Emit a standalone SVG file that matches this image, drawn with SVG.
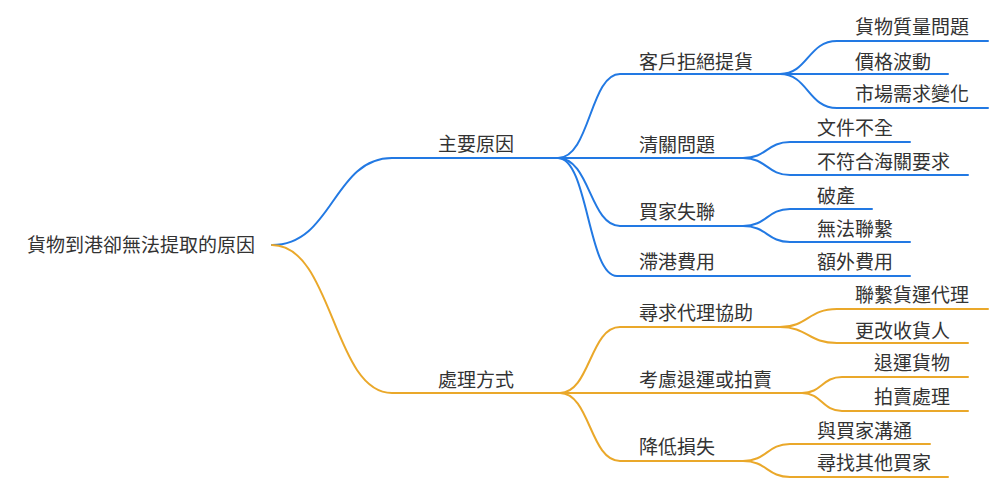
<svg xmlns="http://www.w3.org/2000/svg" width="1000" height="490" viewBox="0 0 1000 490">
<style>
text{font-family:"Noto Sans CJK TC","Noto Sans CJK SC",sans-serif;font-size:19px;fill:#333;}
.b{fill:none;stroke:#2279E3;stroke-width:2;stroke-linecap:round;}
.o{fill:none;stroke:#EAA82A;stroke-width:2;stroke-linecap:round;}
</style>
<rect width="1000" height="490" fill="#fff"/>
<g id="connectors">
<path class="b" d="M272,245 C333,245 333,158 392,158 L558,158"/>
<path class="o" d="M272,245 C333,245 333,393 392,393 L560,393"/>
<path class="b" d="M558,158 C590,158 590,74 620,74 L780,74"/>
<path class="b" d="M558,158 L743,158"/>
<path class="b" d="M558,158 C590,158 590,226 620,226 L743,226"/>
<path class="b" d="M558,158 C588,158 588,276 617,276 L910,276"/>
<path class="b" d="M780,74 C808,74 808,41 837,41 L988,41"/>
<path class="b" d="M780,74 L948,74"/>
<path class="b" d="M780,74 C808,74 808,108 837,108 L988,108"/>
<path class="b" d="M743,158 C767,158 767,142 790,142 L910,142"/>
<path class="b" d="M743,158 C767,158 767,175 790,175 L968,175"/>
<path class="b" d="M743,226 C767,226 767,209 790,209 L872,209"/>
<path class="b" d="M743,226 C767,226 767,242 790,242 L910,242"/>
<path class="o" d="M560,393 C590,393 590,327 620,327 L780,327"/>
<path class="o" d="M560,393 L802,393"/>
<path class="o" d="M560,393 C590,393 590,461 620,461 L743,461"/>
<path class="o" d="M780,327 C808,327 808,309 837,309 L988,309"/>
<path class="o" d="M780,327 C808,327 808,343 837,343 L968,343"/>
<path class="o" d="M802,393 C822,393 822,377 842,377 L968,377"/>
<path class="o" d="M802,393 C822,393 822,411 842,411 L968,411"/>
<path class="o" d="M743,461 C767,461 767,444 790,444 L930,444"/>
<path class="o" d="M743,461 C767,461 767,477 790,477 L948,477"/>
</g>
<g id="root"><text x="27" y="252">貨物到港卻無法提取的原因</text></g>
<g id="n-main"><text x="438" y="151">主要原因</text></g>
<g id="n-handle"><text x="438" y="387">處理方式</text></g>
<g id="n-refuse"><text x="639" y="69">客戶拒絕提貨</text></g>
<g id="n-customs"><text x="639" y="152">清關問題</text></g>
<g id="n-lost"><text x="639" y="219">買家失聯</text></g>
<g id="n-demurrage"><text x="639" y="269">滯港費用</text></g>
<g id="n-quality"><text x="855" y="34">貨物質量問題</text></g>
<g id="n-price"><text x="855" y="69">價格波動</text></g>
<g id="n-market"><text x="855" y="101">市場需求變化</text></g>
<g id="n-docs"><text x="817" y="135">文件不全</text></g>
<g id="n-noncomp"><text x="817" y="169">不符合海關要求</text></g>
<g id="n-bankrupt"><text x="817" y="203">破產</text></g>
<g id="n-nocontact"><text x="817" y="236">無法聯繫</text></g>
<g id="n-extra"><text x="817" y="269">額外費用</text></g>
<g id="n-agent"><text x="639" y="320">尋求代理協助</text></g>
<g id="n-return"><text x="639" y="387">考慮退運或拍賣</text></g>
<g id="n-reduce"><text x="639" y="454">降低損失</text></g>
<g id="n-forwarder"><text x="855" y="302">聯繫貨運代理</text></g>
<g id="n-consignee"><text x="855" y="338">更改收貨人</text></g>
<g id="n-ship-back"><text x="874" y="370">退運貨物</text></g>
<g id="n-auction"><text x="874" y="404">拍賣處理</text></g>
<g id="n-talk"><text x="817" y="438">與買家溝通</text></g>
<g id="n-other"><text x="817" y="470">尋找其他買家</text></g>
</svg>
